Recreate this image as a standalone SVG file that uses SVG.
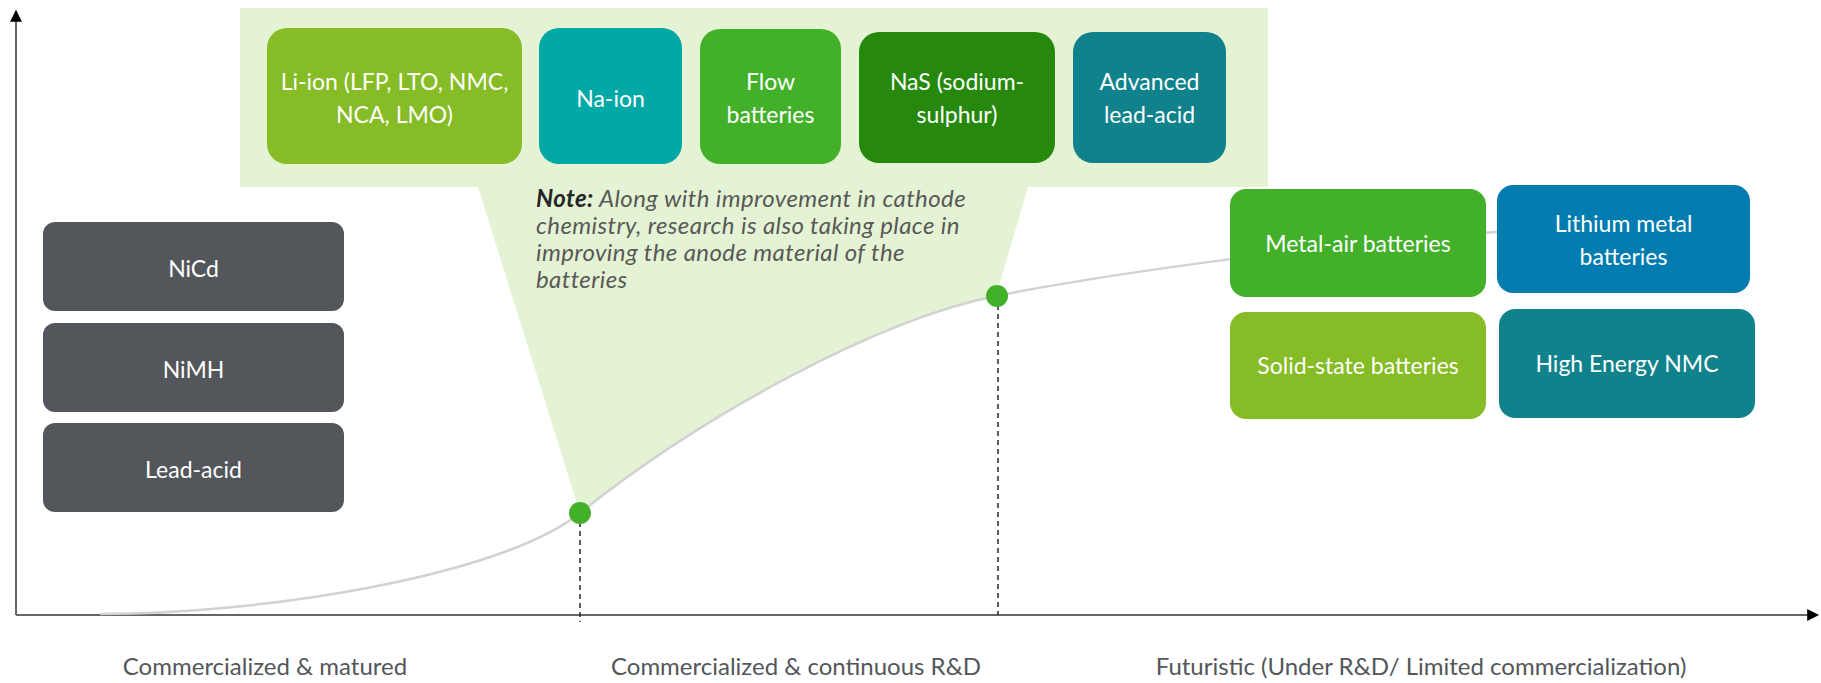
<svg xmlns="http://www.w3.org/2000/svg" width="1821" height="683" viewBox="0 0 1821 683">
  <style>
    .box text { font-family: Lato, "Liberation Sans", sans-serif; font-size: 23px; fill: #ffffff; text-anchor: middle; }
    .stage { font-family: Lato, "Liberation Sans", sans-serif; font-size: 24px; fill: #53565A; text-anchor: middle; }
    .note { font-family: Lato, "Liberation Sans", sans-serif; font-size: 24px; letter-spacing: 0.4px; font-style: italic; fill: #595959; }
    .note .lead { font-weight: bold; fill: #262626; }
    .axis { stroke: #666666; stroke-width: 2; fill: none; }
    .guide { stroke: #333333; stroke-width: 1.6; stroke-dasharray: 5 4; fill: none; }
    .curve { stroke: #D2D2D2; stroke-width: 2.5; fill: none; }
    .dot { fill: #43B02A; }
    .gray { fill: #53565A; }
    .lime { fill: #86BC25; }
    .green { fill: #43B02A; }
    .dkgreen { fill: #26890D; }
    .teal { fill: #00A8A6; }
    .dkteal { fill: #0F828C; }
    .blue { fill: #007CB0; }
  </style>
  <defs>
    <marker id="arrow" viewBox="0 0 10 10" refX="9" refY="5" markerWidth="6" markerHeight="6" markerUnits="strokeWidth" orient="auto">
      <path d="M0,0 L10,5 L0,10 Z" fill="#000000"/>
    </marker>
  </defs>

  <rect width="1821" height="683" fill="#ffffff"/>

  <!-- highlight callout for the commercialized & R&D stage -->
  <path id="callout" d="M240,8 H1268 V187 H1028 L996,296 C876,320 700,417 580,513 L478,187 H240 Z" fill="#E4F3D3"/>

  <!-- axes -->
  <g id="axes">
    <line class="axis" x1="16" y1="615" x2="16" y2="11" marker-end="url(#arrow)"/>
    <line class="axis" x1="16" y1="615" x2="1818" y2="615" marker-end="url(#arrow)"/>
  </g>

  <!-- maturity curve and stage markers -->
  <g id="connectors">
    <path class="curve" d="M100,614 C260,614 500,577 580,513 C700,417 876,320 996,296 C1100,275 1350,240 1497,232"/>
    <line class="guide" x1="580" y1="513" x2="580" y2="622"/>
    <line class="guide" x1="998" y1="296" x2="998" y2="615"/>
    <circle class="dot" cx="580" cy="513" r="11"/>
    <circle class="dot" cx="997" cy="296" r="11"/>
  </g>

  <!-- commercialized & matured -->
  <g id="nicd" class="box">
    <rect class="gray" x="43" y="222" width="301" height="89" rx="12"/>
    <text x="193.5" y="277">NiCd</text>
  </g>
  <g id="nimh" class="box">
    <rect class="gray" x="43" y="323" width="301" height="89" rx="12"/>
    <text x="193.5" y="378">NiMH</text>
  </g>
  <g id="lead-acid" class="box">
    <rect class="gray" x="43" y="423" width="301" height="89" rx="12"/>
    <text x="193.5" y="478">Lead-acid</text>
  </g>

  <!-- commercialized & continuous R&D -->
  <g id="li-ion" class="box">
    <rect class="lime" x="267" y="28" width="255" height="136" rx="20"/>
    <text x="394.5" y="90">Li-ion (LFP, LTO, NMC,</text>
    <text x="394.5" y="123">NCA, LMO)</text>
  </g>
  <g id="na-ion" class="box">
    <rect class="teal" x="539" y="28" width="143" height="136" rx="20"/>
    <text x="610.5" y="107">Na-ion</text>
  </g>
  <g id="flow" class="box">
    <rect class="green" x="700" y="29" width="141" height="135" rx="20"/>
    <text x="770.5" y="90">Flow</text>
    <text x="770.5" y="123">batteries</text>
  </g>
  <g id="nas" class="box">
    <rect class="dkgreen" x="859" y="32" width="196" height="131" rx="20"/>
    <text x="957" y="90">NaS (sodium-</text>
    <text x="957" y="123">sulphur)</text>
  </g>
  <g id="advanced-lead-acid" class="box">
    <rect class="dkteal" x="1073" y="32" width="153" height="131" rx="20"/>
    <text x="1149.5" y="90">Advanced</text>
    <text x="1149.5" y="123">lead-acid</text>
  </g>

  <text id="note" class="note" x="536" y="207"><tspan class="lead">Note:</tspan> Along with improvement in cathode<tspan x="536" y="234">chemistry, research is also taking place in</tspan><tspan x="536" y="261">improving the anode material of the</tspan><tspan x="536" y="288">batteries</tspan></text>

  <!-- futuristic -->
  <g id="metal-air" class="box">
    <rect class="green" x="1230" y="189" width="256" height="108" rx="16"/>
    <text x="1358" y="252">Metal-air batteries</text>
  </g>
  <g id="lithium-metal" class="box">
    <rect class="blue" x="1497" y="185" width="253" height="108" rx="16"/>
    <text x="1623.5" y="232">Lithium metal</text>
    <text x="1623.5" y="265">batteries</text>
  </g>
  <g id="solid-state" class="box">
    <rect class="lime" x="1230" y="312" width="256" height="107" rx="16"/>
    <text x="1358" y="374">Solid-state batteries</text>
  </g>
  <g id="high-energy-nmc" class="box">
    <rect class="dkteal" x="1499" y="309" width="256" height="109" rx="16"/>
    <text x="1627" y="372">High Energy NMC</text>
  </g>

  <!-- stage labels -->
  <g id="stages">
    <text class="stage" x="265" y="675">Commercialized &amp; matured</text>
    <text class="stage" x="796" y="675">Commercialized &amp; continuous R&amp;D</text>
    <text class="stage" x="1421" y="675">Futuristic (Under R&amp;D/ Limited commercialization)</text>
  </g>
</svg>
